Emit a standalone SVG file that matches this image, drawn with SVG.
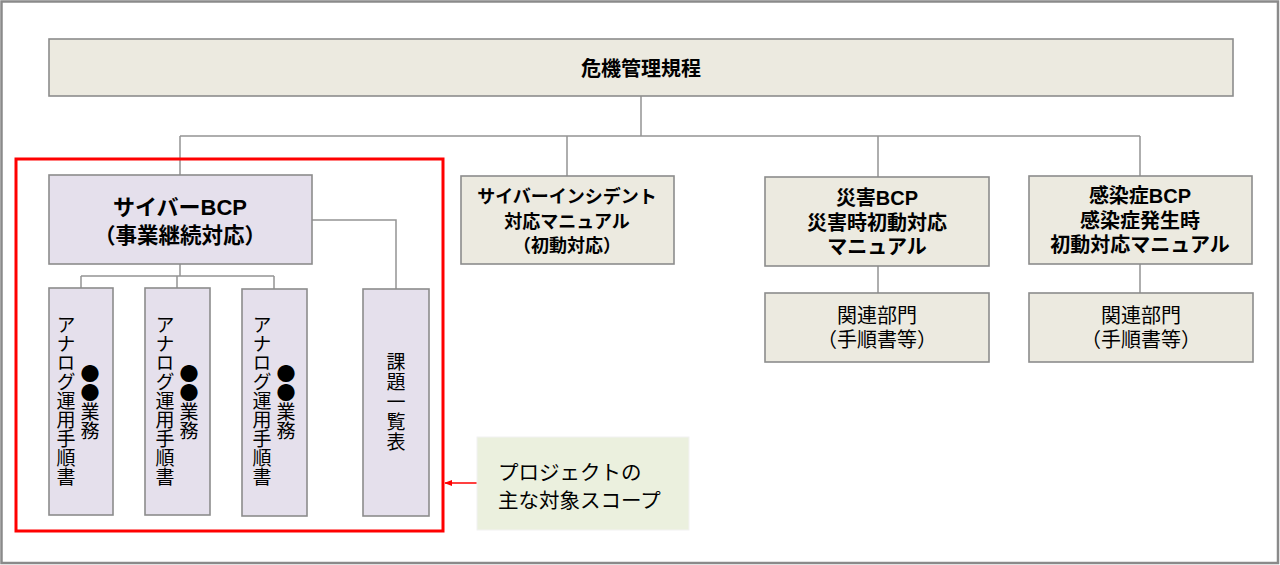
<svg xmlns="http://www.w3.org/2000/svg" width="1280" height="565" viewBox="0 0 1280 565">
<defs>
<style>
.frame{fill:#fff;stroke:#8a8a8a;stroke-width:2.5}
.tan{fill:#ECEAE0;stroke:#8c8c8c;stroke-width:1.6}
.lav{fill:#E5E0EC;stroke:#8c8c8c;stroke-width:1.6}
.callout{fill:#EBF0DE;stroke:#f2f2f2;stroke-width:1}
.conn{fill:none;stroke:#949494;stroke-width:1.5}
.scope{fill:none;stroke:#ff0000;stroke-width:3}
text{font-family:"Liberation Sans","Noto Sans CJK JP",sans-serif;fill:#000;text-anchor:middle}
.b{font-weight:bold}
.vt{font-family:"Noto Sans CJK JP",sans-serif;writing-mode:vertical-rl;font-size:19px}
</style>
<marker id="arr" viewBox="0 0 10 10" refX="9" refY="5" markerWidth="8" markerHeight="8" orient="auto" markerUnits="userSpaceOnUse">
<path d="M0,1 L10,5 L0,9 Z" fill="#ff0000"/>
</marker>
</defs>
<rect class="frame" x="1.5" y="1.5" width="1276.5" height="561.5"/>

<g id="connectors">
<path class="conn" d="M641,96 V136 M180,136 H1140 M180,136 V175 M567,136 V176 M878,136 V177 M1140,136 V176"/>
<path class="conn" d="M878,266 V293 M1140,264 V293"/>
<path class="conn" d="M180,264 V276 M81,276 H274 M81,276 V289 M177,276 V289 M274,276 V289"/>
<path class="conn" d="M312,220 H396 V290"/>
<line x1="477" y1="483" x2="445" y2="483" stroke="#ff0000" stroke-width="1.5" marker-end="url(#arr)"/>
</g>

<g id="scope-frame">
<rect class="scope" x="16" y="159" width="427" height="372"/>
</g>

<g id="kiki">
<rect class="tan" x="49" y="39" width="1184" height="57"/>
<text class="b" x="641" y="76" font-size="20">危機管理規程</text>
</g>

<g id="cyber-bcp">
<rect class="lav" x="49" y="175" width="263" height="89"/>
<text class="b" x="180" y="215" font-size="22">サイバーBCP</text>
<text class="b" x="180" y="243" font-size="21.5">（事業継続対応）</text>
</g>

<g id="manual1">
<rect class="lav" x="49" y="288" width="64" height="227"/>
<text class="vt" x="90" y="402">●●業務</text>
<text class="vt" x="66" y="401">アナログ運用手順書</text>
</g>
<g id="manual2">
<rect class="lav" x="145" y="288" width="65" height="227"/>
<text class="vt" x="189" y="402">●●業務</text>
<text class="vt" x="165" y="401">アナログ運用手順書</text>
</g>
<g id="manual3">
<rect class="lav" x="242" y="289" width="65" height="227"/>
<text class="vt" x="286" y="402">●●業務</text>
<text class="vt" x="262" y="401">アナログ運用手順書</text>
</g>
<g id="issues">
<rect class="lav" x="363" y="289" width="66" height="227"/>
<text class="vt" x="396" y="402" letter-spacing="1">課題一覧表</text>
</g>

<g id="incident">
<rect class="tan" x="461" y="176" width="213" height="88"/>
<text class="b" x="567" y="203" font-size="18">サイバーインシデント</text>
<text class="b" x="567" y="228" font-size="18">対応マニュアル</text>
<text class="b" x="567" y="252" font-size="18">（初動対応）</text>
</g>

<g id="disaster">
<rect class="tan" x="765" y="177" width="224" height="89"/>
<text class="b" x="877" y="205" font-size="20">災害BCP</text>
<text class="b" x="877" y="230" font-size="20">災害時初動対応</text>
<text class="b" x="877" y="254" font-size="20">マニュアル</text>
</g>
<g id="disaster-dept">
<rect class="tan" x="765" y="293" width="224" height="69"/>
<text x="877" y="323" font-size="20">関連部門</text>
<text x="877" y="347" font-size="20">（手順書等）</text>
</g>

<g id="infection">
<rect class="tan" x="1029" y="176" width="223" height="88"/>
<text class="b" x="1140" y="203" font-size="20">感染症BCP</text>
<text class="b" x="1140" y="228" font-size="20">感染症発生時</text>
<text class="b" x="1140" y="252" font-size="20">初動対応マニュアル</text>
</g>
<g id="infection-dept">
<rect class="tan" x="1029" y="293" width="224" height="69"/>
<text x="1141" y="323" font-size="20">関連部門</text>
<text x="1141" y="347" font-size="20">（手順書等）</text>
</g>

<g id="scope-note">
<rect class="callout" x="477" y="437" width="212" height="93"/>
<text x="498" y="480" font-size="20.5" style="text-anchor:start">プロジェクトの</text>
<text x="498" y="508" font-size="20.5" style="text-anchor:start">主な対象スコープ</text>
</g>
</svg>
